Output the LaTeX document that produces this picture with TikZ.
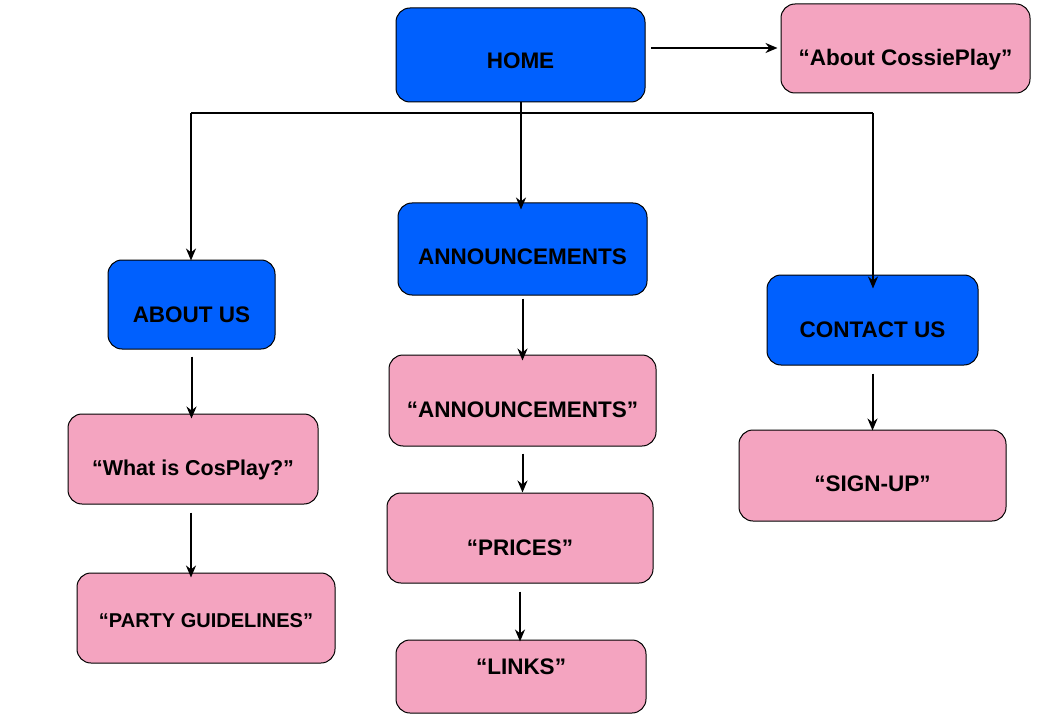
\documentclass[tikz,border=0pt]{standalone}
\usepackage{fontspec}
\setmainfont{Liberation Sans}
\usetikzlibrary{arrows.meta}
\definecolor{bluebox}{RGB}{0,96,254}
\definecolor{pinkbox}{RGB}{244,164,192}
\tikzset{
  box/.style={draw=black, line width=1pt, rounded corners=14pt, inner sep=0pt,
    font=\bfseries\fontsize{22.5}{26}\selectfont, text=black},
  bluenode/.style={box, fill=bluebox},
  pinknode/.style={box, fill=pinkbox},
  smallfont/.style={font=\bfseries\fontsize{20}{24}\selectfont},
  midfont/.style={font=\bfseries\fontsize{21.5}{25}\selectfont},
  conn/.style={line width=2pt, -{Stealth[length=12pt,width=10pt]}},
  plain/.style={line width=2pt}
}
\newcommand{\dn}[2]{\raisebox{-\dimexpr #1pt+8pt\relax}[0pt][0pt]{#2}}
\begin{document}
\begin{tikzpicture}[x=1pt,y=-1pt]
\useasboundingbox (0,0) rectangle (1044,722);
% nodes
\node[bluenode, minimum width=249pt, minimum height=94pt] (home) at (520.5,55) {\dn{6}{HOME}};
\node[pinknode, minimum width=249pt, minimum height=89pt] (about) at (905.5,48.5) {\dn{9.5}{``About CossiePlay''}};
\node[bluenode, minimum width=249pt, minimum height=92pt] (ann) at (522.5,249) {\dn{7}{ANNOUNCEMENTS}};
\node[bluenode, minimum width=167pt, minimum height=89pt] (aboutus) at (191.5,304.5) {\dn{9.5}{ABOUT US}};
\node[bluenode, minimum width=211pt, minimum height=90pt] (contact) at (872.5,320) {\dn{9}{CONTACT US}};
\node[pinknode, minimum width=267pt, minimum height=91pt] (annq) at (522.5,400.5) {\dn{8.5}{``ANNOUNCEMENTS''}};
\node[pinknode, midfont, minimum width=250pt, minimum height=90pt] (what) at (193,459) {\dn{8}{``What is CosPlay?''}};
\node[pinknode, minimum width=267pt, minimum height=91pt] (sign) at (872.5,475.5) {\dn{7.5}{``SIGN-UP''}};
\node[pinknode, minimum width=266pt, minimum height=90pt] (prices) at (520,538) {\dn{9}{``PRICES''}};
\node[pinknode, smallfont, minimum width=258pt, minimum height=90pt] (party) at (206,618) {\dn{1}{``PARTY GUIDELINES''}};
\node[pinknode, minimum width=250pt, minimum height=73pt] (links) at (521,676.5) {\dn{-10.5}{``LINKS''}};
% coordinates for connectors
\coordinate (hb) at (521,102);
\coordinate (ha) at (651,48);
\coordinate (jl) at (191,113);
\coordinate (jr) at (873,113);
% connectors
\draw[conn] (ha) -- ([xshift=-3pt]about.west |- ha);
\draw[conn] (hb) -- ([yshift=-7pt]ann.north -| hb);
\draw[plain] (jl) -- (jr);
\draw[conn] (jl) -- ([yshift=-1pt]aboutus.north -| jl);
\draw[conn] (jr) -- ([yshift=-14pt]contact.north -| jr);
\draw[conn] ([yshift=-3pt]ann.south) -- ([yshift=-6pt]annq.north);
\draw[conn] ([yshift=-7pt]annq.south) -- (prices.north -| annq.south);
\draw[conn] ([yshift=-8pt]prices.south) -- ([yshift=-2pt]links.north -| prices.south);
\draw[conn] ([yshift=-7pt]aboutus.south) -- ([yshift=-5pt]what.north -| aboutus.south);
\draw[conn] ([xshift=-2pt,yshift=-8pt]what.south) -- ([xshift=-2pt,yshift=-5pt]what.south |- party.north);
\draw[conn] ([yshift=-8pt]contact.south) -- ([yshift=-1pt]sign.north);
\end{tikzpicture}
\end{document}
